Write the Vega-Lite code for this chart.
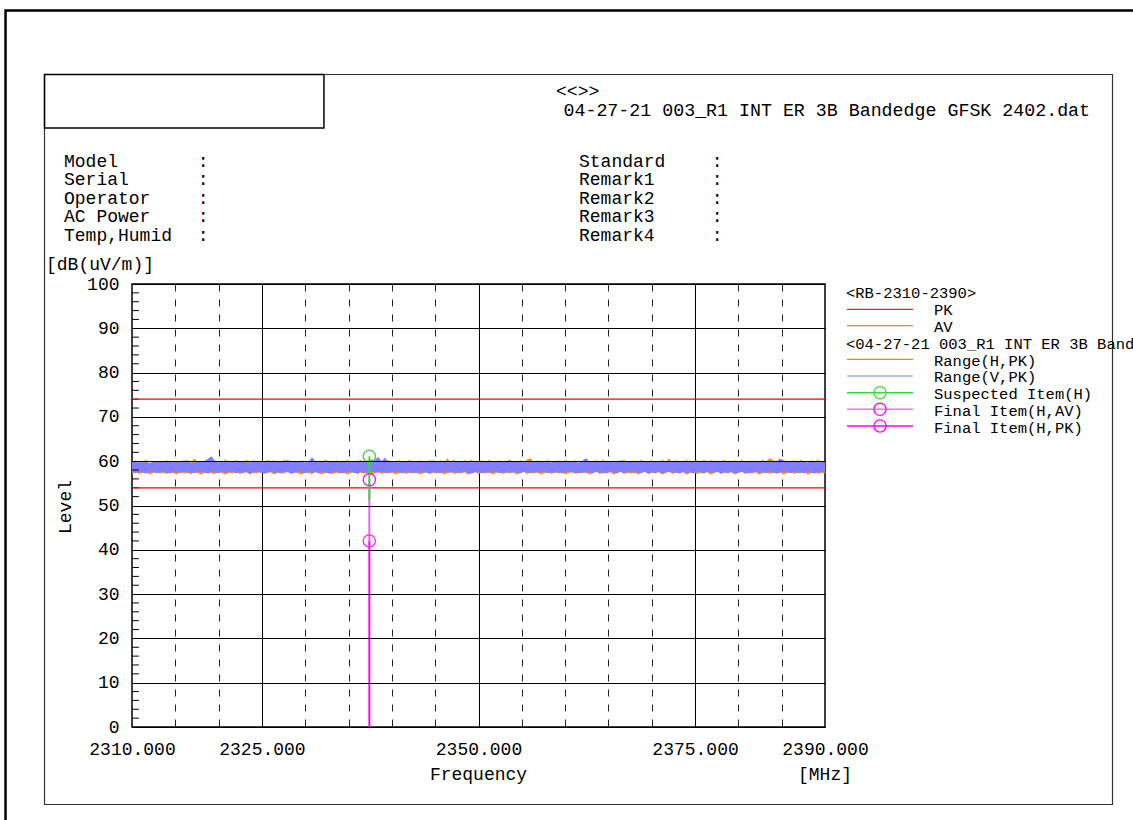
{
  "$schema": "https://vega.github.io/schema/vega-lite/v6.json",
  "width": 693,
  "height": 443,
  "autosize": {"type": "none"},
  "padding": {"left": 132, "top": 284, "right": 308, "bottom": 93},
  "background": "#ffffff",
  "config": {
    "view": {"stroke": "#000000", "strokeWidth": 1.5},
    "font": "Liberation Mono",
    "text": {"font": "Liberation Mono", "color": "#000000"},
    "axis": {"labelFont": "Liberation Mono", "labelColor": "#000000"}
  },
  "resolve": {"axis": {"x": "independent", "y": "independent"}},
  "datasets": {
    "trace": [
      {"f":2310.0,"hlo":57.3,"hhi":59.6,"vlo":57.5,"vhi":59.8},{"f":2310.4,"hlo":57.6,"hhi":60.2,"vlo":57.3,"vhi":59.9},{"f":2310.8,"hlo":57.1,"hhi":59.5,"vlo":57.6,"vhi":59.7},{"f":2311.2,"hlo":57.4,"hhi":59.8,"vlo":57.4,"vhi":60.0},{"f":2311.6,"hlo":57.5,"hhi":60.3,"vlo":57.2,"vhi":59.8},
      {"f":2312.0,"hlo":57.0,"hhi":59.4,"vlo":57.5,"vhi":59.6},{"f":2312.4,"hlo":57.3,"hhi":59.7,"vlo":57.7,"vhi":59.9},{"f":2312.8,"hlo":57.6,"hhi":60.1,"vlo":57.3,"vhi":59.8},{"f":2313.2,"hlo":57.2,"hhi":59.6,"vlo":57.5,"vhi":60.1},{"f":2313.6,"hlo":57.4,"hhi":59.9,"vlo":57.6,"vhi":59.7},
      {"f":2314.0,"hlo":57.1,"hhi":60.2,"vlo":57.4,"vhi":59.9},{"f":2314.4,"hlo":57.5,"hhi":59.5,"vlo":57.2,"vhi":59.8},{"f":2314.8,"hlo":57.3,"hhi":59.8,"vlo":57.6,"vhi":60.0},{"f":2315.2,"hlo":57.0,"hhi":60.0,"vlo":57.5,"vhi":59.7},{"f":2315.6,"hlo":57.6,"hhi":59.6,"vlo":57.3,"vhi":59.9},
      {"f":2316.0,"hlo":57.2,"hhi":59.9,"vlo":57.7,"vhi":60.2},{"f":2316.4,"hlo":57.4,"hhi":60.3,"vlo":57.4,"vhi":59.8},{"f":2316.8,"hlo":57.1,"hhi":59.7,"vlo":57.5,"vhi":59.6},{"f":2317.2,"hlo":57.5,"hhi":60.6,"vlo":57.3,"vhi":59.9},{"f":2317.6,"hlo":57.3,"hhi":59.8,"vlo":57.6,"vhi":60.0},
      {"f":2318.0,"hlo":57.0,"hhi":59.6,"vlo":57.5,"vhi":59.8},{"f":2318.4,"hlo":57.4,"hhi":59.9,"vlo":57.4,"vhi":60.1},{"f":2318.8,"hlo":57.6,"hhi":60.3,"vlo":57.2,"vhi":60.6},{"f":2319.2,"hlo":57.2,"hhi":59.7,"vlo":57.6,"vhi":61.1},{"f":2319.6,"hlo":57.1,"hhi":60.2,"vlo":57.5,"vhi":59.9},
      {"f":2320.0,"hlo":57.5,"hhi":59.5,"vlo":57.3,"vhi":59.7},{"f":2320.4,"hlo":57.3,"hhi":59.8,"vlo":57.7,"vhi":60.0},{"f":2320.8,"hlo":57.0,"hhi":60.4,"vlo":57.4,"vhi":59.8},{"f":2321.2,"hlo":57.4,"hhi":59.6,"vlo":57.5,"vhi":59.9},{"f":2321.6,"hlo":57.2,"hhi":59.9,"vlo":57.6,"vhi":60.1},
      {"f":2322.0,"hlo":57.6,"hhi":60.2,"vlo":57.3,"vhi":59.7},{"f":2322.4,"hlo":57.1,"hhi":59.7,"vlo":57.5,"vhi":59.9},{"f":2322.8,"hlo":57.3,"hhi":59.5,"vlo":57.4,"vhi":60.0},{"f":2323.2,"hlo":57.5,"hhi":60.3,"vlo":57.6,"vhi":59.8},{"f":2323.6,"hlo":57.0,"hhi":59.8,"vlo":57.2,"vhi":59.6},
      {"f":2324.0,"hlo":57.4,"hhi":59.6,"vlo":57.5,"vhi":60.2},{"f":2324.4,"hlo":57.2,"hhi":60.1,"vlo":57.7,"vhi":59.9},{"f":2324.8,"hlo":57.6,"hhi":59.9,"vlo":57.4,"vhi":59.8},{"f":2325.2,"hlo":57.1,"hhi":59.5,"vlo":57.3,"vhi":60.0},{"f":2325.6,"hlo":57.3,"hhi":60.3,"vlo":57.5,"vhi":59.7},
      {"f":2326.0,"hlo":57.5,"hhi":59.8,"vlo":57.6,"vhi":59.9},{"f":2326.4,"hlo":57.0,"hhi":60.2,"vlo":57.4,"vhi":59.8},{"f":2326.8,"hlo":57.4,"hhi":59.6,"vlo":57.5,"vhi":60.1},{"f":2327.2,"hlo":57.2,"hhi":59.7,"vlo":57.3,"vhi":59.9},{"f":2327.6,"hlo":57.3,"hhi":60.3,"vlo":57.6,"vhi":59.7},
      {"f":2328.0,"hlo":57.6,"hhi":59.9,"vlo":57.5,"vhi":60.3},{"f":2328.4,"hlo":57.1,"hhi":59.5,"vlo":57.2,"vhi":59.8},{"f":2328.8,"hlo":57.5,"hhi":60.1,"vlo":57.4,"vhi":59.9},{"f":2329.2,"hlo":57.2,"hhi":59.8,"vlo":57.7,"vhi":60.0},{"f":2329.6,"hlo":57.0,"hhi":60.2,"vlo":57.5,"vhi":59.8},
      {"f":2330.0,"hlo":57.4,"hhi":59.6,"vlo":57.3,"vhi":59.7},{"f":2330.4,"hlo":57.3,"hhi":59.9,"vlo":57.6,"vhi":60.0},{"f":2330.8,"hlo":57.1,"hhi":60.3,"vlo":57.4,"vhi":60.9},{"f":2331.2,"hlo":57.6,"hhi":59.7,"vlo":57.5,"vhi":59.9},{"f":2331.6,"hlo":57.2,"hhi":59.5,"vlo":57.3,"vhi":59.8},
      {"f":2332.0,"hlo":57.0,"hhi":60.0,"vlo":57.6,"vhi":60.1},{"f":2332.4,"hlo":57.5,"hhi":60.3,"vlo":57.4,"vhi":59.7},{"f":2332.8,"hlo":57.3,"hhi":59.6,"vlo":57.2,"vhi":59.9},{"f":2333.2,"hlo":57.1,"hhi":59.8,"vlo":57.5,"vhi":60.0},{"f":2333.6,"hlo":57.4,"hhi":60.2,"vlo":57.7,"vhi":59.8},
      {"f":2334.0,"hlo":57.2,"hhi":59.7,"vlo":57.4,"vhi":59.9},{"f":2334.4,"hlo":57.5,"hhi":59.5,"vlo":57.3,"vhi":60.1},{"f":2334.8,"hlo":57.0,"hhi":60.3,"vlo":57.6,"vhi":59.8},{"f":2335.2,"hlo":57.3,"hhi":59.9,"vlo":57.5,"vhi":59.7},{"f":2335.6,"hlo":57.6,"hhi":59.6,"vlo":57.4,"vhi":60.0},
      {"f":2336.0,"hlo":57.1,"hhi":60.2,"vlo":57.2,"vhi":59.9},{"f":2336.4,"hlo":57.4,"hhi":59.8,"vlo":57.6,"vhi":60.2},{"f":2336.8,"hlo":57.2,"hhi":59.5,"vlo":57.5,"vhi":59.8},{"f":2337.2,"hlo":57.5,"hhi":60.3,"vlo":57.3,"vhi":59.9},{"f":2337.6,"hlo":57.0,"hhi":59.7,"vlo":57.7,"vhi":60.4},
      {"f":2338.0,"hlo":57.3,"hhi":59.9,"vlo":57.5,"vhi":60.2},{"f":2338.4,"hlo":57.6,"hhi":60.2,"vlo":57.4,"vhi":61.0},{"f":2338.8,"hlo":57.1,"hhi":59.6,"vlo":57.6,"vhi":60.0},{"f":2339.2,"hlo":57.4,"hhi":59.8,"vlo":57.3,"vhi":60.8},{"f":2339.6,"hlo":57.2,"hhi":60.3,"vlo":57.5,"vhi":59.9},
      {"f":2340.0,"hlo":57.5,"hhi":59.5,"vlo":57.4,"vhi":60.1},{"f":2340.4,"hlo":57.0,"hhi":59.9,"vlo":57.7,"vhi":59.8},{"f":2340.8,"hlo":57.3,"hhi":60.2,"vlo":57.5,"vhi":59.7},{"f":2341.2,"hlo":57.6,"hhi":59.7,"vlo":57.2,"vhi":60.0},{"f":2341.6,"hlo":57.1,"hhi":59.6,"vlo":57.6,"vhi":59.9},
      {"f":2342.0,"hlo":57.4,"hhi":60.3,"vlo":57.4,"vhi":59.8},{"f":2342.4,"hlo":57.2,"hhi":59.8,"vlo":57.5,"vhi":60.0},{"f":2342.8,"hlo":57.5,"hhi":59.5,"vlo":57.3,"vhi":59.9},{"f":2343.2,"hlo":57.0,"hhi":60.2,"vlo":57.6,"vhi":59.7},{"f":2343.6,"hlo":57.3,"hhi":59.9,"vlo":57.5,"vhi":60.1},
      {"f":2344.0,"hlo":57.6,"hhi":59.6,"vlo":57.4,"vhi":59.8},{"f":2344.4,"hlo":57.1,"hhi":60.3,"vlo":57.2,"vhi":59.9},{"f":2344.8,"hlo":57.4,"hhi":59.7,"vlo":57.6,"vhi":60.2},{"f":2345.2,"hlo":57.2,"hhi":59.8,"vlo":57.5,"vhi":59.8},{"f":2345.6,"hlo":57.5,"hhi":60.2,"vlo":57.3,"vhi":59.9},
      {"f":2346.0,"hlo":57.0,"hhi":59.6,"vlo":57.6,"vhi":60.0},{"f":2346.4,"hlo":57.3,"hhi":60.6,"vlo":57.5,"vhi":59.7},{"f":2346.8,"hlo":57.6,"hhi":59.8,"vlo":57.4,"vhi":59.9},{"f":2347.2,"hlo":57.1,"hhi":60.3,"vlo":57.7,"vhi":60.1},{"f":2347.6,"hlo":57.4,"hhi":59.5,"vlo":57.3,"vhi":59.8},
      {"f":2348.0,"hlo":57.2,"hhi":59.9,"vlo":57.5,"vhi":59.9},{"f":2348.4,"hlo":57.5,"hhi":60.2,"vlo":57.6,"vhi":60.0},{"f":2348.8,"hlo":57.0,"hhi":59.7,"vlo":57.4,"vhi":59.8},{"f":2349.2,"hlo":57.3,"hhi":60.3,"vlo":57.2,"vhi":59.7},{"f":2349.6,"hlo":57.6,"hhi":59.6,"vlo":57.5,"vhi":60.1},
      {"f":2350.0,"hlo":57.1,"hhi":59.8,"vlo":57.5,"vhi":59.9},{"f":2350.4,"hlo":57.4,"hhi":60.2,"vlo":57.3,"vhi":59.8},{"f":2350.8,"hlo":57.2,"hhi":59.5,"vlo":57.6,"vhi":60.0},{"f":2351.2,"hlo":57.5,"hhi":60.3,"vlo":57.4,"vhi":59.9},{"f":2351.6,"hlo":57.0,"hhi":59.9,"vlo":57.5,"vhi":59.7},
      {"f":2352.0,"hlo":57.3,"hhi":59.7,"vlo":57.7,"vhi":60.1},{"f":2352.4,"hlo":57.6,"hhi":60.2,"vlo":57.3,"vhi":59.8},{"f":2352.8,"hlo":57.1,"hhi":59.6,"vlo":57.5,"vhi":59.9},{"f":2353.2,"hlo":57.4,"hhi":59.8,"vlo":57.4,"vhi":60.0},{"f":2353.6,"hlo":57.2,"hhi":60.3,"vlo":57.6,"vhi":60.2},
      {"f":2354.0,"hlo":57.5,"hhi":59.9,"vlo":57.4,"vhi":59.8},{"f":2354.4,"hlo":57.0,"hhi":59.5,"vlo":57.5,"vhi":59.9},{"f":2354.8,"hlo":57.3,"hhi":60.2,"vlo":57.2,"vhi":60.1},{"f":2355.2,"hlo":57.6,"hhi":59.8,"vlo":57.6,"vhi":59.7},{"f":2355.6,"hlo":57.1,"hhi":60.3,"vlo":57.5,"vhi":59.9},
      {"f":2356.0,"hlo":57.4,"hhi":60.7,"vlo":57.3,"vhi":60.0},{"f":2356.4,"hlo":57.2,"hhi":59.6,"vlo":57.7,"vhi":59.8},{"f":2356.8,"hlo":57.5,"hhi":60.2,"vlo":57.4,"vhi":59.9},{"f":2357.2,"hlo":57.0,"hhi":59.9,"vlo":57.5,"vhi":60.1},{"f":2357.6,"hlo":57.3,"hhi":59.7,"vlo":57.6,"vhi":59.8},
      {"f":2358.0,"hlo":57.6,"hhi":60.3,"vlo":57.3,"vhi":59.9},{"f":2358.4,"hlo":57.1,"hhi":59.5,"vlo":57.5,"vhi":59.7},{"f":2358.8,"hlo":57.4,"hhi":59.8,"vlo":57.4,"vhi":60.0},{"f":2359.2,"hlo":57.2,"hhi":60.2,"vlo":57.6,"vhi":59.8},{"f":2359.6,"hlo":57.5,"hhi":59.6,"vlo":57.2,"vhi":60.1},
      {"f":2360.0,"hlo":57.0,"hhi":60.3,"vlo":57.5,"vhi":59.9},{"f":2360.4,"hlo":57.3,"hhi":59.9,"vlo":57.7,"vhi":59.8},{"f":2360.8,"hlo":57.6,"hhi":59.7,"vlo":57.4,"vhi":60.0},{"f":2361.2,"hlo":57.1,"hhi":60.2,"vlo":57.5,"vhi":59.9},{"f":2361.6,"hlo":57.4,"hhi":59.5,"vlo":57.3,"vhi":59.7},
      {"f":2362.0,"hlo":57.2,"hhi":59.8,"vlo":57.6,"vhi":60.1},{"f":2362.4,"hlo":57.5,"hhi":60.3,"vlo":57.4,"vhi":60.7},{"f":2362.8,"hlo":57.0,"hhi":59.6,"vlo":57.5,"vhi":59.9},{"f":2363.2,"hlo":57.3,"hhi":59.9,"vlo":57.3,"vhi":59.8},{"f":2363.6,"hlo":57.6,"hhi":60.2,"vlo":57.6,"vhi":60.0},
      {"f":2364.0,"hlo":57.1,"hhi":59.7,"vlo":57.5,"vhi":59.9},{"f":2364.4,"hlo":57.4,"hhi":60.3,"vlo":57.2,"vhi":59.7},{"f":2364.8,"hlo":57.2,"hhi":59.5,"vlo":57.4,"vhi":60.1},{"f":2365.2,"hlo":57.5,"hhi":59.8,"vlo":57.6,"vhi":59.8},{"f":2365.6,"hlo":57.0,"hhi":60.2,"vlo":57.5,"vhi":59.9},
      {"f":2366.0,"hlo":57.3,"hhi":59.6,"vlo":57.3,"vhi":60.0},{"f":2366.4,"hlo":57.6,"hhi":59.9,"vlo":57.6,"vhi":60.2},{"f":2366.8,"hlo":57.1,"hhi":60.3,"vlo":57.4,"vhi":59.8},{"f":2367.2,"hlo":57.4,"hhi":59.7,"vlo":57.5,"vhi":59.9},{"f":2367.6,"hlo":57.2,"hhi":59.5,"vlo":57.7,"vhi":60.1},
      {"f":2368.0,"hlo":57.5,"hhi":60.2,"vlo":57.3,"vhi":59.7},{"f":2368.4,"hlo":57.0,"hhi":59.8,"vlo":57.5,"vhi":59.9},{"f":2368.8,"hlo":57.3,"hhi":60.3,"vlo":57.4,"vhi":60.0},{"f":2369.2,"hlo":57.6,"hhi":59.6,"vlo":57.6,"vhi":59.8},{"f":2369.6,"hlo":57.1,"hhi":59.9,"vlo":57.2,"vhi":59.9},
      {"f":2370.0,"hlo":57.4,"hhi":60.2,"vlo":57.5,"vhi":60.1},{"f":2370.4,"hlo":57.2,"hhi":59.7,"vlo":57.4,"vhi":59.8},{"f":2370.8,"hlo":57.5,"hhi":59.5,"vlo":57.6,"vhi":59.9},{"f":2371.2,"hlo":57.0,"hhi":60.3,"vlo":57.3,"vhi":60.0},{"f":2371.6,"hlo":57.3,"hhi":59.8,"vlo":57.5,"vhi":59.7},
      {"f":2372.0,"hlo":57.6,"hhi":60.6,"vlo":57.7,"vhi":60.2},{"f":2372.4,"hlo":57.1,"hhi":59.6,"vlo":57.4,"vhi":59.9},{"f":2372.8,"hlo":57.4,"hhi":60.2,"vlo":57.5,"vhi":59.8},{"f":2373.2,"hlo":57.2,"hhi":59.9,"vlo":57.3,"vhi":60.0},{"f":2373.6,"hlo":57.5,"hhi":59.7,"vlo":57.6,"vhi":59.9},
      {"f":2374.0,"hlo":57.0,"hhi":60.3,"vlo":57.4,"vhi":59.8},{"f":2374.4,"hlo":57.3,"hhi":59.5,"vlo":57.5,"vhi":60.1},{"f":2374.8,"hlo":57.6,"hhi":59.8,"vlo":57.2,"vhi":59.9},{"f":2375.2,"hlo":57.1,"hhi":60.2,"vlo":57.6,"vhi":59.7},{"f":2375.6,"hlo":57.4,"hhi":59.6,"vlo":57.5,"vhi":60.0},
      {"f":2376.0,"hlo":57.2,"hhi":60.3,"vlo":57.3,"vhi":59.8},{"f":2376.4,"hlo":57.5,"hhi":59.9,"vlo":57.7,"vhi":59.9},{"f":2376.8,"hlo":57.0,"hhi":59.7,"vlo":57.4,"vhi":60.2},{"f":2377.2,"hlo":57.3,"hhi":60.2,"vlo":57.5,"vhi":59.8},{"f":2377.6,"hlo":57.6,"hhi":59.5,"vlo":57.6,"vhi":59.9},
      {"f":2378.0,"hlo":57.1,"hhi":59.8,"vlo":57.3,"vhi":60.0},{"f":2378.4,"hlo":57.4,"hhi":60.3,"vlo":57.5,"vhi":59.8},{"f":2378.8,"hlo":57.2,"hhi":59.6,"vlo":57.4,"vhi":60.1},{"f":2379.2,"hlo":57.5,"hhi":59.9,"vlo":57.6,"vhi":59.9},{"f":2379.6,"hlo":57.0,"hhi":60.2,"vlo":57.2,"vhi":59.7},
      {"f":2380.0,"hlo":57.3,"hhi":59.7,"vlo":57.5,"vhi":60.0},{"f":2380.4,"hlo":57.6,"hhi":60.3,"vlo":57.7,"vhi":59.9},{"f":2380.8,"hlo":57.1,"hhi":59.5,"vlo":57.4,"vhi":59.8},{"f":2381.2,"hlo":57.4,"hhi":59.8,"vlo":57.3,"vhi":60.1},{"f":2381.6,"hlo":57.2,"hhi":60.2,"vlo":57.5,"vhi":59.9},
      {"f":2382.0,"hlo":57.5,"hhi":59.6,"vlo":57.6,"vhi":59.8},{"f":2382.4,"hlo":57.0,"hhi":59.9,"vlo":57.4,"vhi":60.0},{"f":2382.8,"hlo":57.3,"hhi":60.3,"vlo":57.5,"vhi":59.9},{"f":2383.2,"hlo":57.6,"hhi":59.7,"vlo":57.3,"vhi":60.1},{"f":2383.6,"hlo":57.1,"hhi":60.7,"vlo":57.6,"vhi":59.8},
      {"f":2384.0,"hlo":57.4,"hhi":60.2,"vlo":57.5,"vhi":59.9},{"f":2384.4,"hlo":57.2,"hhi":59.8,"vlo":57.2,"vhi":60.0},{"f":2384.8,"hlo":57.5,"hhi":59.5,"vlo":57.4,"vhi":60.6},{"f":2385.2,"hlo":57.0,"hhi":60.3,"vlo":57.7,"vhi":60.2},{"f":2385.6,"hlo":57.3,"hhi":59.9,"vlo":57.5,"vhi":59.8},
      {"f":2386.0,"hlo":57.6,"hhi":59.7,"vlo":57.3,"vhi":59.9},{"f":2386.4,"hlo":57.1,"hhi":60.2,"vlo":57.6,"vhi":60.1},{"f":2386.8,"hlo":57.4,"hhi":59.6,"vlo":57.4,"vhi":59.8},{"f":2387.2,"hlo":57.2,"hhi":60.3,"vlo":57.5,"vhi":59.9},{"f":2387.6,"hlo":57.5,"hhi":59.8,"vlo":57.3,"vhi":60.0},
      {"f":2388.0,"hlo":57.0,"hhi":59.5,"vlo":57.6,"vhi":59.7},{"f":2388.4,"hlo":57.3,"hhi":60.2,"vlo":57.4,"vhi":60.1},{"f":2388.8,"hlo":57.6,"hhi":59.9,"vlo":57.2,"vhi":59.9},{"f":2389.2,"hlo":57.1,"hhi":60.3,"vlo":57.5,"vhi":59.8},{"f":2389.6,"hlo":57.4,"hhi":59.7,"vlo":57.7,"vhi":60.0},
      {"f":2390.0,"hlo":57.2,"hhi":59.8,"vlo":57.4,"vhi":59.9}
    ],
    "items": [
      {"item": "Final Item(H,AV)", "f": 2337.4, "level": 42.0, "top": 55.8, "bottom": 42.0},
      {"item": "Final Item(H,PK)", "f": 2337.4, "level": 55.8, "top": 42.0, "bottom": 0},
      {"item": "Suspected Item(H)", "f": 2337.4, "level": 61.1, "top": 61.1, "bottom": 51.3}
    ],
    "limits": [
      {"limit": "PK", "level": 74},
      {"limit": "AV", "level": 54}
    ],
    "minorTicks": [
      {"level": 2}, {"level": 4}, {"level": 6}, {"level": 8},
      {"level": 12}, {"level": 14}, {"level": 16}, {"level": 18},
      {"level": 22}, {"level": 24}, {"level": 26}, {"level": 28},
      {"level": 32}, {"level": 34}, {"level": 36}, {"level": 38},
      {"level": 42}, {"level": 44}, {"level": 46}, {"level": 48},
      {"level": 52}, {"level": 54}, {"level": 56}, {"level": 58},
      {"level": 62}, {"level": 64}, {"level": 66}, {"level": 68},
      {"level": 72}, {"level": 74}, {"level": 76}, {"level": 78},
      {"level": 82}, {"level": 84}, {"level": 86}, {"level": 88},
      {"level": 92}, {"level": 94}, {"level": 96}, {"level": 98}
    ]
  },
  "layer": [
    {
      "data": {"values": [{}]},
      "mark": {"type": "rect", "filled": false, "stroke": "#000000", "strokeWidth": 2.5},
      "encoding": {
        "x": {"datum": 2295.4, "type": "quantitative", "axis": null},
        "x2": {"datum": 2426.9},
        "y": {"datum": 161.74, "type": "quantitative", "axis": null},
        "y2": {"datum": -24.4}
      }
    },
    {
      "data": {"values": [{}]},
      "mark": {"type": "rect", "filled": false, "stroke": "#333333", "strokeWidth": 1.2},
      "encoding": {
        "x": {"datum": 2299.9, "type": "quantitative", "axis": null},
        "x2": {"datum": 2423.19},
        "y": {"datum": 147.29, "type": "quantitative", "axis": null},
        "y2": {"datum": -17.49}
      }
    },
    {
      "data": {"values": [{}]},
      "mark": {"type": "rect", "filled": false, "stroke": "#000000", "strokeWidth": 1.5},
      "encoding": {
        "x": {"datum": 2299.9, "type": "quantitative", "axis": null},
        "x2": {"datum": 2332.16},
        "y": {"datum": 147.29, "type": "quantitative", "axis": null},
        "y2": {"datum": 135.21}
      }
    },
    {
      "data": {"name": "trace"},
      "mark": {"type": "area", "color": "#ff8a1c", "opacity": 1, "line": false},
      "encoding": {
        "x": {
          "field": "f", "type": "quantitative",
          "scale": {"domain": [2310, 2390], "nice": false, "zero": false},
          "axis": {
            "orient": "bottom",
            "values": [2310, 2325, 2350, 2375, 2390], "format": ".3f",
            "labelFontSize": 18, "labelPadding": 13, "labelFlush": false, "labelOverlap": false, "labelBound": false,
            "ticks": false, "tickSize": 0, "domain": false, "grid": false, "title": null
          }
        },
        "y": {
          "field": "hlo", "type": "quantitative",
          "scale": {"domain": [0, 100], "nice": false, "zero": false},
          "axis": {
            "orient": "left",
            "values": [0, 10, 20, 30, 40, 50, 60, 70, 80, 90, 100],
            "labelFontSize": 18, "labelPadding": 13, "labelFlush": false, "labelOverlap": false, "labelBound": false,
            "ticks": false, "tickSize": 0, "domain": false,
            "grid": true, "gridColor": "#000000", "gridOpacity": 1, "gridWidth": 1, "zindex": 1, "title": null
          }
        },
        "y2": {"field": "hhi"}
      }
    },
    {
      "data": {"name": "trace"},
      "mark": {"type": "area", "color": "#7e7eff", "opacity": 1, "line": false},
      "encoding": {
        "x": {
          "field": "f", "type": "quantitative",
          "axis": {
            "orient": "bottom",
            "values": [2325, 2350, 2375], "labels": false, "ticks": false, "domain": false,
            "grid": true, "gridColor": "#000000", "gridOpacity": 1, "gridWidth": 1, "title": null
          }
        },
        "y": {"field": "vlo", "type": "quantitative", "axis": null},
        "y2": {"field": "vhi"}
      }
    },
    {
      "data": {"name": "minorTicks"},
      "mark": {"type": "rule", "color": "#000000", "strokeWidth": 1},
      "encoding": {
        "x": {"datum": 2310, "type": "quantitative", "axis": null},
        "x2": {"datum": 2310.8},
        "y": {"field": "level", "type": "quantitative", "axis": null}
      }
    },
    {
      "data": {"name": "limits"},
      "mark": {"type": "rule", "color": "#ff0000", "strokeWidth": 1.3},
      "encoding": {
        "x": {
          "datum": 2310, "type": "quantitative",
          "axis": {
            "orient": "bottom",
            "values": [2315, 2320, 2330, 2335, 2340, 2345, 2355, 2360, 2365, 2370, 2380, 2385],
            "labels": false, "ticks": false, "domain": false,
            "grid": true, "gridColor": "#222222", "gridOpacity": 1, "gridWidth": 1, "gridDash": [7, 8], "title": null
          }
        },
        "x2": {"datum": 2390},
        "y": {"field": "level", "type": "quantitative", "axis": null}
      }
    },
    {
      "data": {"name": "items"},
      "mark": {"type": "rule", "strokeWidth": 2},
      "encoding": {
        "x": {"field": "f", "type": "quantitative", "axis": null},
        "y": {"field": "top", "type": "quantitative", "axis": null},
        "y2": {"field": "bottom"},
        "color": {
          "field": "item", "type": "nominal", "legend": null,
          "scale": {"domain": ["Suspected Item(H)", "Final Item(H,AV)", "Final Item(H,PK)"], "range": ["#33dd33", "#f060f0", "#ff00ff"]}
        }
      }
    },
    {
      "data": {"name": "items"},
      "mark": {"type": "point", "shape": "circle", "filled": false, "size": 150, "strokeWidth": 1.3, "opacity": 1},
      "encoding": {
        "x": {"field": "f", "type": "quantitative", "axis": null},
        "y": {"field": "level", "type": "quantitative", "axis": null},
        "stroke": {
          "field": "item", "type": "nominal", "legend": null,
          "scale": {"domain": ["Suspected Item(H)", "Final Item(H,AV)", "Final Item(H,PK)"], "range": ["#33dd33", "#ff22ff", "#ff00ff"]}
        }
      }
    },
    {
      "data": {"values": [{}]},
      "mark": {"type": "text", "align": "left", "baseline": "alphabetic", "fontSize": 18},
      "encoding": {
        "x": {"datum": 2358.95, "type": "quantitative", "axis": null},
        "y": {"datum": 142.1, "type": "quantitative", "axis": null},
        "text": {"value": "<<>>"}
      }
    },
    {
      "data": {"values": [{}]},
      "mark": {"type": "text", "align": "left", "baseline": "alphabetic", "fontSize": 18.3},
      "encoding": {
        "x": {"datum": 2359.81, "type": "quantitative", "axis": null},
        "y": {"datum": 137.97, "type": "quantitative", "axis": null},
        "text": {"value": "04-27-21 003_R1 INT ER 3B Bandedge GFSK 2402.dat"}
      }
    },
    {
      "data": {"values": [{}]},
      "mark": {"type": "text", "align": "left", "baseline": "alphabetic", "fontSize": 18, "lineHeight": 18.5},
      "encoding": {
        "x": {"datum": 2302.15, "type": "quantitative", "axis": null},
        "y": {"datum": 126.46, "type": "quantitative", "axis": null},
        "text": {"value": ["Model", "Serial", "Operator", "AC Power", "Temp,Humid"]}
      }
    },
    {
      "data": {"values": [{}]},
      "mark": {"type": "text", "align": "left", "baseline": "alphabetic", "fontSize": 18, "lineHeight": 18.5},
      "encoding": {
        "x": {"datum": 2317.59, "type": "quantitative", "axis": null},
        "y": {"datum": 126.46, "type": "quantitative", "axis": null},
        "text": {"value": [":", ":", ":", ":", ":"]}
      }
    },
    {
      "data": {"values": [{}]},
      "mark": {"type": "text", "align": "left", "baseline": "alphabetic", "fontSize": 18, "lineHeight": 18.5},
      "encoding": {
        "x": {"datum": 2361.6, "type": "quantitative", "axis": null},
        "y": {"datum": 126.46, "type": "quantitative", "axis": null},
        "text": {"value": ["Standard", "Remark1", "Remark2", "Remark3", "Remark4"]}
      }
    },
    {
      "data": {"values": [{}]},
      "mark": {"type": "text", "align": "left", "baseline": "alphabetic", "fontSize": 18, "lineHeight": 18.5},
      "encoding": {
        "x": {"datum": 2376.93, "type": "quantitative", "axis": null},
        "y": {"datum": 126.46, "type": "quantitative", "axis": null},
        "text": {"value": [":", ":", ":", ":", ":"]}
      }
    },
    {
      "data": {"values": [{}]},
      "mark": {"type": "text", "align": "left", "baseline": "alphabetic", "fontSize": 18},
      "encoding": {
        "x": {"datum": 2300.07, "type": "quantitative", "axis": null},
        "y": {"datum": 103.05, "type": "quantitative", "axis": null},
        "text": {"value": "[dB(uV/m)]"}
      }
    },
    {
      "data": {"values": [{}]},
      "mark": {"type": "text", "align": "center", "baseline": "middle", "fontSize": 18, "angle": 270},
      "encoding": {
        "x": {"datum": 2302.38, "type": "quantitative", "axis": null},
        "y": {"datum": 49.66, "type": "quantitative", "axis": null},
        "text": {"value": "Level"}
      }
    },
    {
      "data": {"values": [{}]},
      "mark": {"type": "text", "align": "center", "baseline": "alphabetic", "fontSize": 18},
      "encoding": {
        "x": {"datum": 2350, "type": "quantitative", "axis": null},
        "y": {"datum": -11.96, "type": "quantitative", "axis": null},
        "text": {"value": "Frequency"}
      }
    },
    {
      "data": {"values": [{}]},
      "mark": {"type": "text", "align": "center", "baseline": "alphabetic", "fontSize": 18},
      "encoding": {
        "x": {"datum": 2390, "type": "quantitative", "axis": null},
        "y": {"datum": -11.96, "type": "quantitative", "axis": null},
        "text": {"value": "[MHz]"}
      }
    },
    {
      "data": {"values": [{}]},
      "mark": {"type": "text", "align": "left", "baseline": "alphabetic", "fontSize": 15.5},
      "encoding": {
        "x": {"datum": 2392.42, "type": "quantitative", "axis": null},
        "y": {"datum": 96.84, "type": "quantitative", "axis": null},
        "text": {"value": "<RB-2310-2390>"}
      }
    },
    {
      "data": {"values": [{}]},
      "mark": {"type": "text", "align": "left", "baseline": "alphabetic", "fontSize": 15.5},
      "encoding": {
        "x": {"datum": 2392.42, "type": "quantitative", "axis": null},
        "y": {"datum": 85.4, "type": "quantitative", "axis": null},
        "text": {"value": "<04-27-21 003_R1 INT ER 3B Bandedge GFSK 2402.dat>"}
      }
    },
    {
      "data": {"values": [{}]},
      "mark": {"type": "text", "align": "left", "baseline": "alphabetic", "fontSize": 15.5, "lineHeight": 16.9},
      "encoding": {
        "x": {"datum": 2402.58, "type": "quantitative", "axis": null},
        "y": {"datum": 93.05, "type": "quantitative", "axis": null},
        "text": {"value": ["PK", "AV"]}
      }
    },
    {
      "data": {"values": [{}]},
      "mark": {"type": "text", "align": "left", "baseline": "alphabetic", "fontSize": 15.5, "lineHeight": 16.9},
      "encoding": {
        "x": {"datum": 2402.58, "type": "quantitative", "axis": null},
        "y": {"datum": 81.58, "type": "quantitative", "axis": null},
        "text": {"value": ["Range(H,PK)", "Range(V,PK)", "Suspected Item(H)", "Final Item(H,AV)", "Final Item(H,PK)"]}
      }
    },
    {
      "data": {"values": [{}]},
      "mark": {"type": "rule", "color": "#ff1a1a", "strokeWidth": 1.2},
      "encoding": {"x": {"datum": 2392.54, "type": "quantitative", "axis": null}, "x2": {"datum": 2400.16}, "y": {"datum": 94.29, "type": "quantitative", "axis": null}}
    },
    {
      "data": {"values": [{}]},
      "mark": {"type": "rule", "color": "#ff6a6a", "strokeWidth": 1.2},
      "encoding": {"x": {"datum": 2392.54, "type": "quantitative", "axis": null}, "x2": {"datum": 2400.16}, "y": {"datum": 90.59, "type": "quantitative", "axis": null}}
    },
    {
      "data": {"values": [{}]},
      "mark": {"type": "rule", "color": "#ff8000", "strokeWidth": 1.2},
      "encoding": {"x": {"datum": 2392.54, "type": "quantitative", "axis": null}, "x2": {"datum": 2400.16}, "y": {"datum": 83.0, "type": "quantitative", "axis": null}}
    },
    {
      "data": {"values": [{}]},
      "mark": {"type": "rule", "color": "#7878ff", "strokeWidth": 1.2},
      "encoding": {"x": {"datum": 2392.54, "type": "quantitative", "axis": null}, "x2": {"datum": 2400.16}, "y": {"datum": 79.23, "type": "quantitative", "axis": null}}
    },
    {
      "data": {"values": [{}]},
      "mark": {"type": "rule", "color": "#33dd33", "strokeWidth": 1.5},
      "encoding": {"x": {"datum": 2392.54, "type": "quantitative", "axis": null}, "x2": {"datum": 2400.16}, "y": {"datum": 75.46, "type": "quantitative", "axis": null}}
    },
    {
      "data": {"values": [{}]},
      "mark": {"type": "rule", "color": "#f070f0", "strokeWidth": 1.5},
      "encoding": {"x": {"datum": 2392.54, "type": "quantitative", "axis": null}, "x2": {"datum": 2400.16}, "y": {"datum": 71.72, "type": "quantitative", "axis": null}}
    },
    {
      "data": {"values": [{}]},
      "mark": {"type": "rule", "color": "#ff00ff", "strokeWidth": 1.5},
      "encoding": {"x": {"datum": 2392.54, "type": "quantitative", "axis": null}, "x2": {"datum": 2400.16}, "y": {"datum": 67.95, "type": "quantitative", "axis": null}}
    },
    {
      "data": {"values": [{}]},
      "mark": {"type": "point", "shape": "circle", "filled": false, "size": 150, "strokeWidth": 1.3, "color": "#33dd33", "opacity": 1},
      "encoding": {"x": {"datum": 2396.35, "type": "quantitative", "axis": null}, "y": {"datum": 75.46, "type": "quantitative", "axis": null}}
    },
    {
      "data": {"values": [{}]},
      "mark": {"type": "point", "shape": "circle", "filled": false, "size": 150, "strokeWidth": 1.3, "color": "#ff00ff", "opacity": 1},
      "encoding": {"x": {"datum": 2396.35, "type": "quantitative", "axis": null}, "y": {"datum": 71.72, "type": "quantitative", "axis": null}}
    },
    {
      "data": {"values": [{}]},
      "mark": {"type": "point", "shape": "circle", "filled": false, "size": 150, "strokeWidth": 1.3, "color": "#ff00ff", "opacity": 1},
      "encoding": {"x": {"datum": 2396.35, "type": "quantitative", "axis": null}, "y": {"datum": 67.95, "type": "quantitative", "axis": null}}
    }
  ]
}
